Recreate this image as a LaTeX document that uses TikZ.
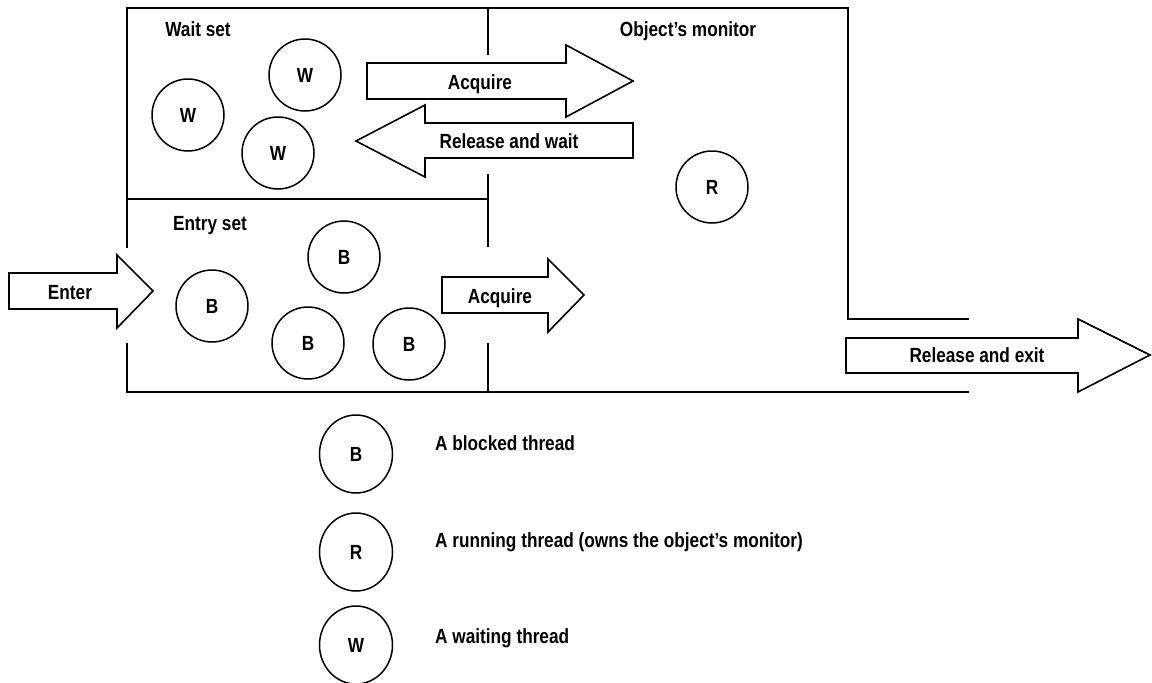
\documentclass[tikz,border=0pt]{standalone}
\usepackage{fontspec}
\setmainfont{Liberation Sans}[FakeStretch=0.84]
\usetikzlibrary{shapes.geometric}

\tikzset{
	frame/.style={line width=1.6pt, line cap=rect},
	blockarrow/.style={draw, line width=1.6pt, line join=miter, fill=white},
	lbl/.style={inner sep=0pt, text height=14pt, text depth=0pt},
	thread/.style={circle, draw, line width=1.5pt, minimum size=72pt, inner sep=0pt, text height=14pt, text depth=0pt},
	keythread/.style={ellipse, draw, line width=1.5pt, minimum width=73pt, minimum height=78pt, inner sep=0pt, text height=14pt, text depth=0pt},
}

\begin{document}
\begin{tikzpicture}[x=1pt, y=-1pt, font=\fontsize{20.5}{24}\selectfont\bfseries]
	\useasboundingbox (0,0) rectangle (1152,683);
	% Monitor Frame %
	\draw [frame] (127,247) -- (127,8) -- (848,8) -- (848,319) -- (968,319);
	\draw [frame] (127,344) -- (127,392) -- (968,392);
	\draw [frame] (127,199) -- (488,199);
	\draw [frame] (488,8) -- (488,54);
	\draw [frame] (488,175) -- (488,246);
	\draw [frame] (488,344) -- (488,392);
	% Block Arrows %
	\draw [blockarrow] (367,63) -- (566,63) -- (566,45) -- (633,81) -- (566,117) -- (566,99) -- (367,99) -- cycle;
	\draw [blockarrow] (633,123) -- (425,123) -- (425,105) -- (356,141) -- (425,177) -- (425,158) -- (633,158) -- cycle;
	\draw [blockarrow] (9,273) -- (117,273) -- (117,255) -- (153,291) -- (117,328) -- (117,309) -- (9,309) -- cycle;
	\draw [blockarrow] (442,277) -- (548,277) -- (548,259) -- (584,295) -- (548,332) -- (548,313) -- (442,313) -- cycle;
	\draw [blockarrow] (846,338) -- (1078,338) -- (1078,319) -- (1150,355) -- (1078,392) -- (1078,373) -- (846,373) -- cycle;
	% Arrow Labels %
	\node [lbl] (acqwait) at (480,82) {Acquire};
	\node [lbl] (relwait) at (509,141) {Release and wait};
	\node [lbl] (enter) at (70,292) {Enter};
	\node [lbl] (acqentry) at (500,296) {Acquire};
	\node [lbl] (relexit) at (977,355) {Release and exit};
	% Set Titles %
	\node [lbl] (waitset) at (198,29) {Wait set};
	\node [lbl] (monitor) at (688,29) {Object’s monitor};
	\node [lbl] (entryset) at (210,223) {Entry set};
	% Threads %
	\node [thread] (w1) at (305,75) {W};
	\node [thread] (w2) at (188,115) {W};
	\node [thread] (w3) at (278,153) {W};
	\node [thread] (r1) at (712,187) {R};
	\node [thread] (b1) at (344,257) {B};
	\node [thread] (b2) at (212,306) {B};
	\node [thread] (b3) at (308,343) {B};
	\node [thread] (b4) at (409,344) {B};
	% Legend %
	\node [keythread] (keyb) at (356,454) {B};
	\node [keythread] (keyr) at (356,552) {R};
	\node [keythread] (keyw) at (356,645) {W};
	\node [lbl, anchor=west] (txtb) at (435,443) {A blocked thread};
	\node [lbl, anchor=west] (txtr) at (435,540) {A running thread (owns the object’s monitor)};
	\node [lbl, anchor=west] (txtw) at (435,636) {A waiting thread};
\end{tikzpicture}
\end{document}
